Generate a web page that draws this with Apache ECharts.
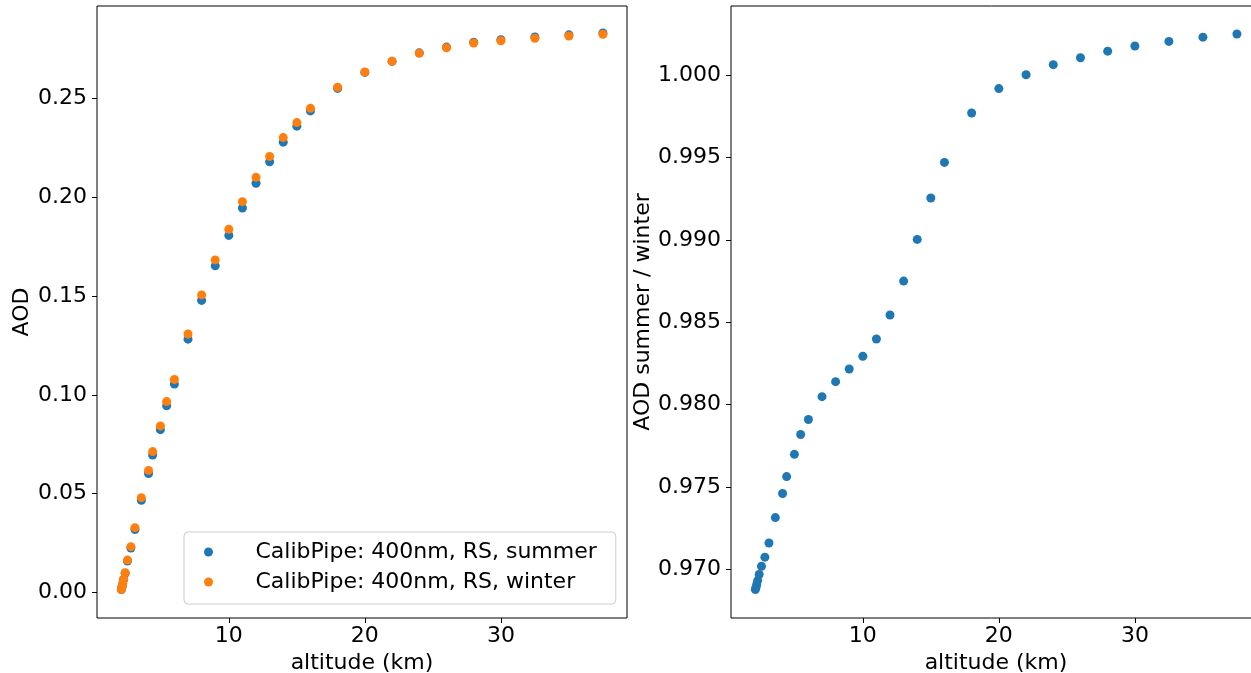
<!DOCTYPE html>
<html>
<head>
<meta charset="utf-8">
<script src="https://cdn.jsdelivr.net/npm/echarts@6/dist/echarts.min.js"></script>
<style>
html,body{margin:0;padding:0;background:#fff;}
#c{width:1251px;height:673px;}
</style>
</head>
<body>
<div id="c"></div>
<script>
// altitude (km)
const altitude = [2.1, 2.15, 2.2, 2.27, 2.38, 2.55, 2.8, 3.1, 3.57, 4.1, 4.4, 4.97, 5.43, 6, 7, 8, 9, 10, 11, 12, 13, 14, 15, 16, 18, 20, 22, 24, 26, 28, 30, 32.5, 35, 37.5];
// AOD, summer
const aodSummer = [0.0015, 0.0029, 0.0044, 0.0066, 0.0097, 0.0159, 0.0225, 0.0319, 0.0467, 0.0602, 0.0696, 0.0824, 0.0945, 0.1055, 0.1282, 0.1478, 0.1653, 0.1807, 0.1946, 0.2071, 0.2180, 0.2279, 0.2360, 0.2437, 0.2551, 0.2632, 0.2688, 0.2731, 0.2760, 0.2785, 0.2797, 0.2811, 0.2822, 0.2832];
// AOD, winter
const aodWinter = [0.0015, 0.0030, 0.0045, 0.0068, 0.0100, 0.0164, 0.0232, 0.0328, 0.0480, 0.0618, 0.0713, 0.0843, 0.0966, 0.1078, 0.1308, 0.1506, 0.1683, 0.1838, 0.1978, 0.2101, 0.2207, 0.2302, 0.2378, 0.2450, 0.2557, 0.2634, 0.2688, 0.2729, 0.2757, 0.2781, 0.2792, 0.2805, 0.2816, 0.2825];
// AOD summer / winter
const aodRatio = [0.96879, 0.96892, 0.96910, 0.96933, 0.96970, 0.97020, 0.97075, 0.97161, 0.97315, 0.97461, 0.97564, 0.97699, 0.97819, 0.97910, 0.98049, 0.98140, 0.98217, 0.98294, 0.98399, 0.98544, 0.98750, 0.99003, 0.99254, 0.99470, 0.99770, 0.99918, 1.00002, 1.00063, 1.00105, 1.00145, 1.00176, 1.00204, 1.00230, 1.00249];

const xTicks = [10, 20, 30];
const yTicksLeft = [0.00, 0.05, 0.10, 0.15, 0.20, 0.25];
const yTicksRight = [0.970, 0.975, 0.980, 0.985, 0.990, 0.995, 1.000];
const seriesNames = ['CalibPipe: 400nm, RS, summer', 'CalibPipe: 400nm, RS, winter'];

const FONT = 'DejaVu Sans';
const FS = 22;
const chart = echarts.init(document.getElementById('c'), null, {renderer: 'canvas'});

function xAxisDef(gi) {
  return {
    type: 'value', gridIndex: gi, min: 0.31, max: 39.27,
    name: 'altitude (km)', nameLocation: 'middle', nameGap: 31,
    nameTextStyle: {fontFamily: FONT, fontSize: FS, color: '#000'},
    axisLine: {show: false, onZero: false},
    axisTick: {show: true, length: 5, inside: false, lineStyle: {color: '#000', width: 1}, customValues: xTicks},
    axisLabel: {fontFamily: FONT, fontSize: FS, color: '#000', margin: 7, customValues: xTicks, formatter: v => String(Math.round(v))},
    splitLine: {show: false}
  };
}

function yAxisDef(gi, mn, mx, nm, gap, ticks, dec) {
  return {
    type: 'value', gridIndex: gi, min: mn, max: mx,
    name: nm, nameLocation: 'middle', nameGap: gap,
    nameTextStyle: {fontFamily: FONT, fontSize: FS, color: '#000'},
    axisLine: {show: false, onZero: false},
    axisTick: {show: true, length: 5, lineStyle: {color: '#000', width: 1}, customValues: ticks},
    axisLabel: {fontFamily: FONT, fontSize: FS, color: '#000', margin: 10, customValues: ticks, formatter: v => v.toFixed(dec)},
    splitLine: {show: false}
  };
}

const option = {
  backgroundColor: '#fff',
  animation: false,
  grid: [
    {left: 97, top: 6, width: 530, height: 612, outerBoundsMode: 'none', containLabel: false, show: true, borderColor: '#000', borderWidth: 1, backgroundColor: 'transparent'},
    {left: 731, top: 6, width: 530, height: 612, outerBoundsMode: 'none', containLabel: false, show: true, borderColor: '#000', borderWidth: 1, backgroundColor: 'transparent'}
  ],
  xAxis: [xAxisDef(0), xAxisDef(1)],
  yAxis: [
    yAxisDef(0, -0.0129, 0.2968, 'AOD', 64, yTicksLeft, 2),
    yAxisDef(1, 0.96706, 1.00419, 'AOD summer / winter', 77, yTicksRight, 3)
  ],
  legend: {
    data: seriesNames,
    orient: 'vertical',
    left: 184, top: 532,
    padding: [7, 19, 9, 20],
    itemGap: 4,
    itemWidth: 18, itemHeight: 9,
    icon: 'circle',
    backgroundColor: 'rgba(255,255,255,0.8)',
    borderColor: '#cccccc', borderWidth: 1, borderRadius: 4,
    textStyle: {fontFamily: FONT, fontSize: FS, color: '#000', lineHeight: 26, padding: [0, 0, 0, 33]}
  },
  series: [
    {
      name: seriesNames[0], type: 'scatter', xAxisIndex: 0, yAxisIndex: 0,
      symbol: 'circle', symbolSize: 9,
      itemStyle: {color: '#1f77b4', opacity: 1},
      data: altitude.map((x, i) => [x, aodSummer[i]])
    },
    {
      name: seriesNames[1], type: 'scatter', xAxisIndex: 0, yAxisIndex: 0,
      symbol: 'circle', symbolSize: 9,
      itemStyle: {color: '#ff7f0e', opacity: 1},
      data: altitude.map((x, i) => [x, aodWinter[i]])
    },
    {
      name: 'ratio', type: 'scatter', xAxisIndex: 1, yAxisIndex: 1,
      symbol: 'circle', symbolSize: 9,
      itemStyle: {color: '#1f77b4', opacity: 1},
      data: altitude.map((x, i) => [x, aodRatio[i]])
    }
  ]
};
chart.setOption(option);
</script>
</body>
</html>
